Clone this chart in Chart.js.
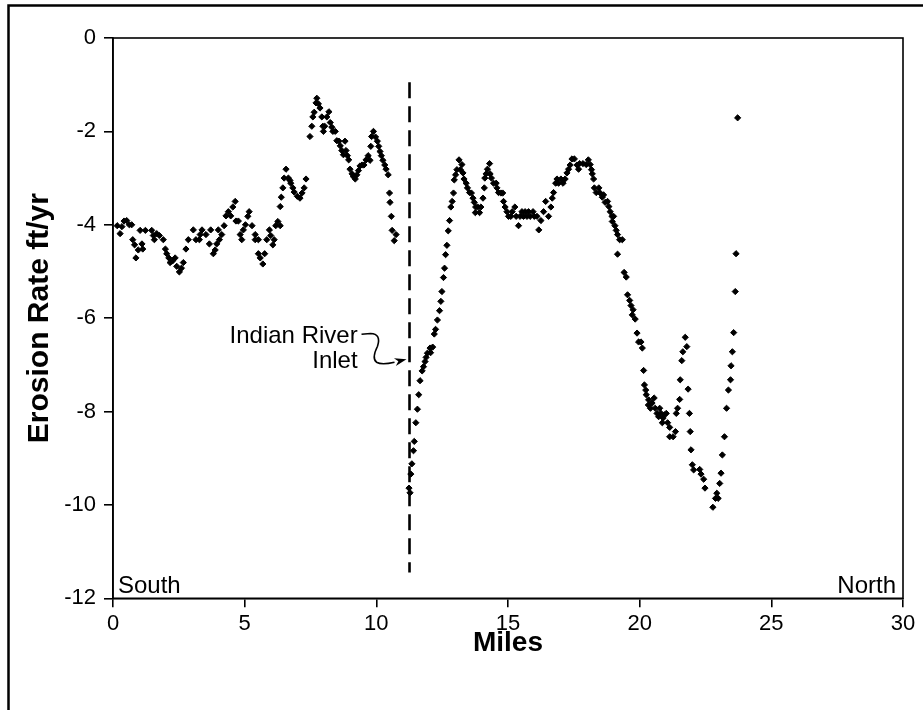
<!DOCTYPE html>
<html>
<head>
<meta charset="utf-8">
<script src="https://cdn.jsdelivr.net/npm/chart.js@4/dist/chart.umd.min.js"></script>
<style>
  html, body { margin: 0; padding: 0; background: #fff; }
  #wrap { width: 923px; height: 710px; position: relative; }
</style>
</head>
<body>
<div id="wrap"><canvas id="c" width="923" height="710"></canvas></div>
<script>
// ---- Data ----
const miles = [
  0.16,0.27,0.34,0.42,0.52,0.62,0.71,0.75,0.82,0.87,0.96,1.03,1.10,1.13,1.23,1.47,1.53,1.57,1.66,1.76,
  1.91,1.99,2.04,2.12,2.17,2.27,2.36,2.42,2.52,2.60,2.67,2.77,2.86,3.05,3.15,3.28,3.31,3.38,3.53,3.66,
  3.71,3.81,3.88,3.94,4.00,4.04,4.13,4.22,4.29,4.38,4.47,4.55,4.64,4.67,4.76,4.83,4.89,4.95,5.03,5.12,
  5.17,5.28,5.40,5.40,5.52,5.52,5.59,5.69,5.76,5.84,5.94,5.99,6.07,6.12,6.18,6.26,6.35,6.35,6.39,6.45,
  6.50,6.57,6.66,6.72,6.75,6.83,6.88,7.00,7.10,7.18,7.26,7.33,7.48,7.55,7.59,7.64,7.71,7.74,7.80,7.86,
  7.93,7.97,7.99,8.04,8.12,8.20,8.25,8.31,8.35,8.44,8.50,8.58,8.63,8.69,8.75,8.81,8.85,8.90,8.95,9.00,
  9.08,9.13,9.20,9.26,9.32,9.38,9.46,9.53,9.61,9.69,9.76,9.79,9.82,9.89,9.97,10.04,10.09,10.14,10.19,10.25,
  10.32,10.37,10.45,10.50,10.52,10.57,10.60,10.68,10.75,
  11.24,11.28,11.31,11.35,11.41,11.44,11.50,11.56,11.61,11.66,11.74,11.79,11.85,11.89,11.94,12.04,12.06,12.14,
  12.20,12.25,12.32,12.40,12.45,12.49,12.55,12.59,12.63,12.68,12.73,12.78,12.83,12.88,12.93,12.96,13.01,13.06,
  13.14,13.19,13.25,13.29,13.33,13.41,13.46,13.54,13.61,13.67,13.72,13.76,13.77,13.85,13.92,13.97,14.05,14.10,
  14.12,14.17,14.22,14.30,14.32,14.37,14.45,14.55,14.58,14.64,14.73,14.80,14.83,14.89,14.96,15.02,15.11,15.16,
  15.26,15.31,15.40,15.46,15.53,15.59,15.65,15.72,15.78,15.84,15.95,16.00,16.10,16.17,16.25,16.35,16.43,16.54,
  16.63,16.68,16.73,16.81,16.86,16.92,17.01,17.09,17.17,17.24,17.30,17.36,17.43,17.52,17.62,17.68,17.72,17.85,
  17.97,18.05,18.12,18.17,18.20,18.25,18.28,18.35,18.45,18.50,18.58,18.63,18.69,18.78,18.83,18.88,18.95,18.96,
  19.01,19.06,19.11,19.16,19.24,19.34,19.16,19.41,19.49,19.54,19.62,19.67,19.72,19.75,19.83,19.90,19.96,20.05,
  20.10,20.15,20.18,20.23,20.25,20.33,20.34,20.41,20.47,20.55,20.59,20.66,20.72,20.76,20.81,20.86,20.89,20.94,
  21.01,21.06,21.14,21.14,21.27,21.36,21.39,21.44,21.52,21.54,21.60,21.64,21.73,21.79,21.84,21.89,21.92,21.95,
  22.00,22.05,22.28,22.33,22.43,22.48,22.78,22.88,22.93,22.98,23.04,23.09,23.14,23.22,23.30,23.37,23.45,23.47,
  23.52,23.57,23.63,23.66,23.72
];
const erosionRate = [
  -4.02,-4.19,-4.04,-3.92,-3.91,-4.00,-4.00,-4.32,-4.43,-4.71,-4.54,-4.12,-4.41,-4.52,-4.12,-4.12,-4.23,-4.32,-4.19,-4.23,
  -4.32,-4.52,-4.62,-4.71,-4.81,-4.77,-4.71,-4.89,-5.01,-4.93,-4.81,-4.52,-4.32,-4.11,-4.32,-4.32,-4.21,-4.11,-4.21,-4.41,
  -4.11,-4.62,-4.54,-4.41,-4.11,-4.32,-4.21,-4.02,-3.81,-3.72,-3.81,-3.62,-3.50,-3.92,-3.92,-4.21,-4.32,-4.11,-4.00,-3.82,
  -3.72,-4.02,-4.21,-4.32,-4.32,-4.62,-4.71,-4.84,-4.62,-4.32,-4.11,-4.23,-4.43,-4.32,-4.02,-3.93,-4.02,-3.61,-3.41,-3.21,
  -3.00,-2.81,-3.00,-3.05,-3.11,-3.21,-3.30,-3.39,-3.43,-3.32,-3.21,-3.02,-2.11,-1.89,-1.69,-1.59,-1.39,-1.29,-1.41,-1.50,
  -1.69,-1.89,-2.00,-1.89,-1.69,-1.58,-1.81,-1.91,-2.00,-2.00,-2.20,-2.21,-2.31,-2.41,-2.50,-2.21,-2.41,-2.52,-2.61,-2.81,
  -2.91,-2.97,-3.02,-2.93,-2.84,-2.74,-2.72,-2.72,-2.61,-2.52,-2.62,-2.32,-2.11,-2.00,-2.12,-2.21,-2.32,-2.43,-2.52,-2.62,
  -2.72,-2.81,-2.93,-3.32,-3.52,-3.82,-4.12,-4.34,-4.21,
  -9.64,-9.74,-9.34,-9.12,-8.84,-8.64,-8.24,-7.95,-7.64,-7.34,-7.13,-7.04,-6.93,-6.84,-6.75,-6.64,-6.74,-6.62,
  -6.34,-6.24,-6.04,-5.84,-5.64,-5.43,-5.13,-4.93,-4.64,-4.44,-4.13,-3.91,-3.62,-3.50,-3.32,-3.04,-2.93,-2.82,
  -2.61,-2.82,-2.71,-2.89,-3.02,-3.11,-3.21,-3.31,-3.32,-3.43,-3.52,-3.74,-3.62,-3.62,-3.74,-3.62,-3.43,-3.21,
  -3.00,-2.91,-2.81,-2.69,-2.91,-3.00,-3.11,-3.11,-3.21,-3.31,-3.32,-3.32,-3.50,-3.62,-3.72,-3.82,-3.82,-3.72,
  -3.62,-3.82,-4.02,-3.82,-3.72,-3.82,-3.72,-3.82,-3.72,-3.82,-3.72,-3.82,-3.82,-4.11,-3.91,-3.72,-3.50,-3.82,
  -3.62,-3.43,-3.31,-3.11,-3.02,-3.11,-3.02,-3.11,-3.02,-2.89,-2.81,-2.72,-2.59,-2.59,-2.72,-2.81,-2.69,-2.69,
  -2.71,-2.61,-2.71,-2.82,-2.91,-3.02,-3.21,-3.31,-3.21,-3.32,-3.41,-3.36,-3.52,-3.50,-3.61,-3.72,-3.82,-3.93,
  -3.82,-4.02,-4.12,-4.21,-4.32,-4.32,-4.63,-5.02,-5.12,-5.50,-5.62,-5.73,-5.93,-5.82,-6.02,-6.32,-6.51,-6.51,
  -6.64,-7.12,-7.43,-7.54,-7.64,-7.86,-7.75,-7.93,-7.82,-7.71,-7.93,-8.04,-8.11,-7.93,-8.04,-8.24,-8.14,-8.07,
  -8.04,-8.24,-8.34,-8.54,-8.54,-8.43,-8.04,-7.93,-7.74,-7.32,-6.91,-6.72,-6.41,-6.61,-7.52,-8.04,-8.43,-8.82,
  -9.14,-9.25,-9.24,-9.34,-9.45,-9.64,-10.05,-9.86,-9.75,-9.86,-9.54,-9.32,-8.93,-8.54,-7.93,-7.54,-7.32,-7.02,
  -6.72,-6.31,-5.43,-4.62,-1.71
];
const inletMile = 11.26;
const inletSpan = [-0.95, -11.45];
const xTickValues = [0, 5, 10, 15, 20, 25, 30];
const yTickValues = [0, -2, -4, -6, -8, -10, -12];
const annotationLines = ['Indian River', 'Inlet'];
const directionLabels = ['South', 'North'];

const FONT = '"Liberation Sans", Arial, Helvetica, sans-serif';

const points = miles.map((m, i) => ({ x: m, y: erosionRate[i] }));

const decorPlugin = {
  id: 'decor',
  beforeDraw(chart) {
    const ctx = chart.ctx;
    ctx.save();
    ctx.fillStyle = '#fff';
    ctx.fillRect(0, 0, chart.width, chart.height);
    ctx.restore();
  },
  afterDraw(chart) {
    const ctx = chart.ctx;
    const a = chart.chartArea;
    const xs = chart.scales.x, ys = chart.scales.y;
    ctx.save();
    // outer frame (cropped on right/bottom like the reference)
    ctx.strokeStyle = '#000';
    ctx.lineWidth = 2.5;
    ctx.strokeRect(8.5, 5.5, 2000, 2000);
    // plot box
    ctx.lineWidth = 1.6;
    ctx.strokeRect(a.left, a.top, a.right - a.left, a.bottom - a.top);

    // direction labels
    ctx.fillStyle = '#000';
    ctx.font = '24px ' + FONT;
    ctx.textBaseline = 'alphabetic';
    ctx.textAlign = 'left';
    ctx.fillText(directionLabels[0], a.left + 5, a.bottom - 5);
    ctx.textAlign = 'right';
    ctx.fillText(directionLabels[1], a.right - 7, a.bottom - 5);

    // annotation text
    const tx = xs.getPixelForValue(9.29);
    ctx.textAlign = 'right';
    ctx.fillText(annotationLines[0], tx, ys.getPixelForValue(-6.53));
    ctx.fillText(annotationLines[1], tx, ys.getPixelForValue(-7.07));

    // curly arrow (offsets relative to arrow tip)
    const tipX = xs.getPixelForValue(inletMile) - 3;
    const tipY = ys.getPixelForValue(-6.88);
    const p = (dx, dy) => [tipX + dx, tipY + dy];
    ctx.lineWidth = 1.6;
    ctx.beginPath();
    ctx.moveTo(...p(-45, -25));
    ctx.lineTo(...p(-36, -25.8));
    ctx.quadraticCurveTo(...p(-25, -25.5), ...p(-29, -13));
    ctx.quadraticCurveTo(...p(-35, -1), ...p(-30, 3));
    ctx.quadraticCurveTo(...p(-25, 6), ...p(-12, 3));
    ctx.stroke();
    // arrowhead
    const ang = Math.atan2(-3, 12);
    const len = 12, half = 4;
    ctx.beginPath();
    ctx.moveTo(tipX, tipY);
    ctx.lineTo(tipX - len * Math.cos(ang) + half * Math.sin(ang), tipY - len * Math.sin(ang) - half * Math.cos(ang));
    ctx.lineTo(tipX - len * 0.7 * Math.cos(ang), tipY - len * 0.7 * Math.sin(ang));
    ctx.lineTo(tipX - len * Math.cos(ang) - half * Math.sin(ang), tipY - len * Math.sin(ang) + half * Math.cos(ang));
    ctx.closePath();
    ctx.fill();
    ctx.restore();
  }
};

new Chart(document.getElementById('c'), {
  type: 'scatter',
  data: {
    datasets: [
      {
        label: 'Erosion rate',
        data: points,
        pointStyle: 'rectRot',
        pointRadius: 3.1,
        pointBorderWidth: 1,
        backgroundColor: '#000',
        borderColor: '#000',
        showLine: false
      },
      {
        label: 'Indian River Inlet',
        type: 'line',
        data: [{ x: inletMile, y: inletSpan[0] }, { x: inletMile, y: inletSpan[1] }],
        borderColor: '#000',
        borderWidth: 2.6,
        borderDash: [16, 8],
        pointRadius: 0,
        fill: false
      }
    ]
  },
  options: {
    responsive: false,
    animation: false,
    devicePixelRatio: 1,
    layout: { padding: { top: 38, right: 20, left: 0, bottom: 0 } },
    plugins: { legend: { display: false }, tooltip: { enabled: false } },
    scales: {
      x: {
        type: 'linear',
        min: 0, max: 30,
        afterBuildTicks: s => { s.ticks = xTickValues.map(v => ({ value: v })); },
        afterFit: s => { s.height = 111.7; },
        ticks: { color: '#000', font: { family: FONT, size: 22 }, padding: 3, maxRotation: 0 },
        grid: { display: true, drawOnChartArea: false, drawTicks: true, tickLength: 9, color: '#000', lineWidth: 1.6 },
        border: { display: true, color: '#000', width: 1.6 },
        title: { display: true, text: 'Miles', color: '#000', font: { family: FONT, size: 28, weight: 'bold' }, padding: { top: 0, bottom: 50 } }
      },
      y: {
        type: 'linear',
        min: -12, max: 0,
        afterBuildTicks: s => { s.ticks = yTickValues.slice().reverse().map(v => ({ value: v })); },
        afterFit: s => { s.width = 113; },
        ticks: { color: '#000', font: { family: FONT, size: 22 }, padding: 8 },
        grid: { display: true, drawOnChartArea: false, drawTicks: true, tickLength: 9, color: '#000', lineWidth: 1.6 },
        border: { display: true, color: '#000', width: 1.6 },
        title: { display: true, text: 'Erosion Rate ft/yr', color: '#000', font: { family: FONT, size: 30, weight: 'bold' }, padding: { top: 22, bottom: 0 } }
      }
    }
  },
  plugins: [decorPlugin]
});
</script>
</body>
</html>
